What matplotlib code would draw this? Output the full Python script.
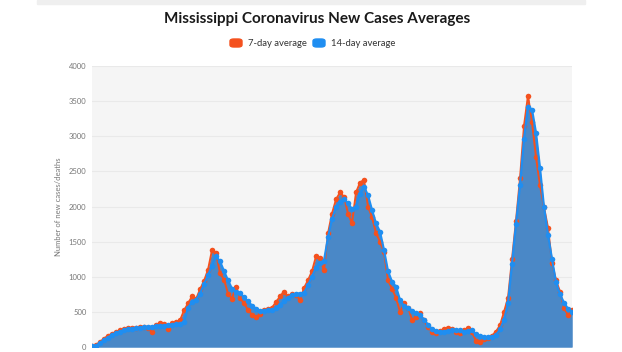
import numpy as np
import matplotlib.pyplot as plt
from matplotlib.patches import Rectangle, FancyBboxPatch

# day index (x)
days = list(range(0, 605, 5))

avg14 = [10, 20, 55, 100, 135, 170, 200, 220, 235, 250, 260, 268, 272, 280, 285, 290,
         300, 305, 300, 310, 320, 325, 330, 360, 560, 640, 670, 760, 890, 1020, 1160, 1290,
         1220, 1080, 950, 830, 780, 765, 710, 650, 590, 545, 515, 515, 520, 530, 560, 600,
         650, 700, 740, 760, 760, 770, 880, 1000, 1130, 1200, 1230, 1560, 1820, 1990, 2060,
         2100, 2050, 1960, 2000, 2180, 2280, 2160, 1950, 1760, 1640, 1380, 1080, 930, 860,
         670, 580, 550, 510, 480, 455, 390, 320, 255, 230, 220, 220, 225, 235, 240, 235,
         220, 230, 235, 180, 150, 140, 140, 145, 170, 250, 380, 620, 1180, 1750, 2300, 2960,
         3420, 3380, 3050, 2550, 1990, 1600, 1250, 920, 750, 630, 545, 500]

avg7 = [15, 30, 70, 120, 160, 190, 215, 235, 250, 265, 275, 275, 280, 290, 275, 215,
        320, 340, 330, 260, 345, 360, 380, 520, 620, 720, 680, 820, 940, 1100, 1380, 1340,
        1050, 960, 760, 690, 860, 700, 620, 530, 460, 420, 470, 520, 540, 560, 640, 720,
        790, 720, 760, 740, 670, 840, 950, 1080, 1290, 1270, 1090, 1620, 1900, 2100, 2200,
        2140, 1900, 1760, 2200, 2340, 2380, 2000, 1850, 1620, 1500, 1350, 950, 830, 700,
        500, 620, 560, 390, 420, 480, 380, 280, 220, 200, 230, 260, 270, 250, 220, 200,
        240, 270, 210, 90, 75, 110, 130, 160, 220, 310, 500, 700, 1250, 1800, 2400, 3150,
        3580, 3200, 2700, 2300, 1990, 1700, 1200, 950, 790, 560, 450, 520]

yticks = [0, 500, 1000, 1500, 2000, 2500, 3000, 3500, 4000]

orange = '#f4511e'
blue = '#1f8ef1'
fill_c = '#4a88c7'

fig = plt.figure(figsize=(6.22, 3.52), dpi=100)
fig.patch.set_facecolor('white')

# grey strip at top of the card
fig.patches.append(Rectangle((37/622, 1-4/352), 548/622, 4/352, transform=fig.transFigure,
                             color='#efefef', zorder=0))

ax = fig.add_axes([92/622, 1-347/352, 480/622, 281/352])
ax.set_facecolor('#f5f5f5')

ax.fill_between(days, avg7, color=fill_c, lw=0, zorder=2)
ax.fill_between(days, avg14, color=fill_c, lw=0, zorder=2)
ax.plot(days, avg7, color=orange, lw=1.4, marker='o', ms=4, mew=0, zorder=3)
ax.plot(days, avg14, color=blue, lw=1.6, marker='o', ms=4, mew=0, zorder=4)

ax.set_xlim(0, 600)
ax.set_ylim(0, 4000)
ax.set_yticks(yticks)
ax.set_yticklabels([str(v) for v in yticks], fontsize=5.5, color='#777777', family='Lato')
ax.set_xticks([])
ax.tick_params(axis='y', length=0, pad=4)
ax.grid(axis='y', color='#e9e9e9', lw=0.8, zorder=1)
for s in ax.spines.values():
    s.set_visible(False)
ax.set_ylabel('Number of new cases/deaths', fontsize=5.5, color='#777777', family='Lato',
              labelpad=5)
ax.set_axisbelow(True)

fig.text(317/622, 1-19/352, 'Mississippi Coronavirus New Cases Averages', ha='center',
         va='center', fontsize=11, fontweight='bold', family='Lato', color='#1a1a1a')

# legend
for x0, col, lab in [(230, orange, '7-day average'), (313, blue, '14-day average')]:
    fig.patches.append(FancyBboxPatch((x0/622, 1-47/352), 12/622, 8/352,
                                      boxstyle='round,pad=0,rounding_size=0.006',
                                      transform=fig.transFigure, color=col))
    fig.text((x0+18)/622, 1-43/352, lab, ha='left', va='center', fontsize=6.8,
             family='Lato', color='#333333')

fig.savefig('out.png', dpi=100)
